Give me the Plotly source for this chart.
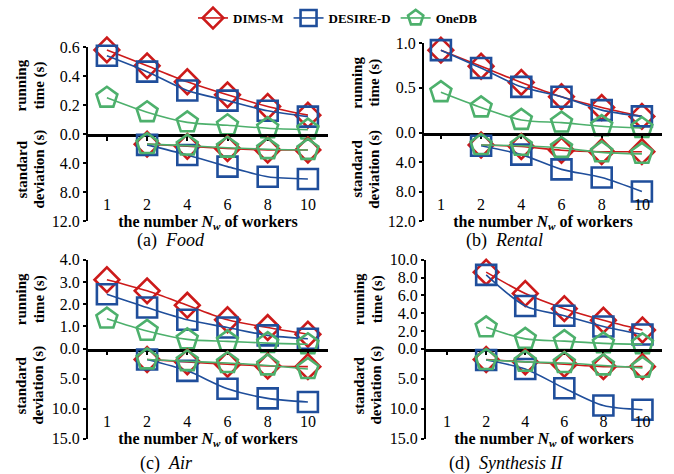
import plotly.graph_objects as go

W, H = 674, 474
FONT = "Liberation Serif"

# ---------------- data ----------------
workers = ['1', '2', '4', '6', '8', '10']
workers_from2 = ['2', '4', '6', '8', '10']
series_names = ['DIMS-M', 'DESIRE-D', 'OneDB']

food_time_dims = [0.58, 0.47, 0.36, 0.27, 0.19, 0.13]
food_time_desire = [0.54, 0.43, 0.30, 0.23, 0.16, 0.12]
food_time_onedb = [0.25, 0.15, 0.08, 0.06, 0.04, 0.03]
food_std_dims = [1.4, 1.7, 2.0, 2.2, 2.2]
food_std_desire = [1.5, 2.9, 4.5, 5.9, 6.2]
food_std_onedb = [1.4, 1.6, 1.9, 2.1, 2.2]

rental_time_dims = [0.92, 0.74, 0.56, 0.40, 0.28, 0.18]
rental_time_desire = [0.92, 0.72, 0.51, 0.40, 0.25, 0.18]
rental_time_onedb = [0.45, 0.28, 0.14, 0.11, 0.07, 0.05]
rental_std_dims = [1.7, 1.9, 2.4, 2.6, 2.6]
rental_std_desire = [1.8, 3.0, 5.0, 6.1, 8.0]
rental_std_onedb = [1.7, 1.8, 2.1, 2.7, 2.9]

air_time_dims = [3.1, 2.6, 1.95, 1.3, 0.95, 0.65]
air_time_desire = [2.45, 1.85, 1.3, 0.95, 0.6, 0.45]
air_time_onedb = [1.35, 0.8, 0.42, 0.33, 0.25, 0.2]
air_std_dims = [1.8, 2.2, 2.6, 2.9, 3.0]
air_std_desire = [1.8, 3.7, 6.7, 8.3, 8.9]
air_std_onedb = [1.8, 2.1, 2.4, 2.8, 3.4]

syn_time_dims = [8.6, 6.2, 4.5, 3.2, 2.1]
syn_time_desire = [8.3, 4.8, 3.7, 2.5, 1.6]
syn_time_onedb = [2.4, 1.1, 0.85, 0.6, 0.5]
syn_std_dims = [1.8, 2.2, 2.6, 3.0, 3.0]
syn_std_desire = [1.9, 3.4, 6.6, 9.5, 10.2]
syn_std_onedb = [1.9, 2.2, 2.4, 2.8, 3.2]

food_time_ticks = [0.0, 0.2, 0.4, 0.6]
rental_time_ticks = [0.0, 0.5, 1.0]
air_time_ticks = [0.0, 1.0, 2.0, 3.0, 4.0]
syn_time_ticks = [0.0, 2.0, 4.0, 6.0, 8.0, 10.0]
small_std_ticks = [4.0, 8.0, 12.0]
large_std_ticks = [5.0, 10.0, 15.0]

captions = ['(a)', '(b)', '(c)', '(d)']
dataset_names = ['Food', 'Rental', 'Air', 'Synthesis II']
top_title_lines = ['running', 'time (s)']
bottom_title_lines = ['standard', 'deviation (s)']
x_title = 'the number <i>N</i><sub><i>w</i></sub> of workers'

# ---------------- styles ----------------
COLORS = ['#CC1A1A', '#1F4E9B', '#4DB06C']
SYMBOLS = ['diamond-open', 'square-open', 'pentagon-open']
MSIZES = [19, 20, 22]


def px_x(v):
    return v / W


def px_y(v):
    return 1 - v / H


panels = [
    dict(times=(workers, [food_time_dims, food_time_desire, food_time_onedb]),
         stds=[food_std_dims, food_std_desire, food_std_onedb],
         tticks=food_time_ticks, sticks=small_std_ticks,
         x0=88, x1=328, xr=[-0.47, 5.5], ytop=47, yzero=134, ybot=221, label_line=193,
         cap_x=171, cap_y=240),
    dict(times=(workers, [rental_time_dims, rental_time_desire, rental_time_onedb]),
         stds=[rental_std_dims, rental_std_desire, rental_std_onedb],
         tticks=rental_time_ticks, sticks=small_std_ticks,
         x0=424, x1=662, xr=[-0.42, 5.5], ytop=43, yzero=132.5, ybot=221, label_line=193,
         cap_x=505, cap_y=240),
    dict(times=(workers, [air_time_dims, air_time_desire, air_time_onedb]),
         stds=[air_std_dims, air_std_desire, air_std_onedb],
         tticks=air_time_ticks, sticks=large_std_ticks,
         x0=88, x1=328, xr=[-0.47, 5.5], ytop=259.7, yzero=348.7, ybot=438.5, label_line=410,
         cap_x=166, cap_y=463),
    dict(times=(workers_from2, [syn_time_dims, syn_time_desire, syn_time_onedb]),
         stds=[syn_std_dims, syn_std_desire, syn_std_onedb],
         tticks=syn_time_ticks, sticks=large_std_ticks,
         x0=426, x1=662, xr=[-0.54, 5.5], ytop=259.7, yzero=348.7, ybot=438.5, label_line=410,
         cap_x=506, cap_y=463),
]

fig = go.Figure()
layout = {}
annotations = []

tick_font = dict(family=FONT, size=16, color='black')
bold_font = dict(family=FONT, size=15, color='black', weight='bold')


def xname(i):
    return 'x' if i == 1 else f'x{i}'


def yname(i):
    return 'y' if i == 1 else f'y{i}'


def xkey(i):
    return 'xaxis' if i == 1 else f'xaxis{i}'


def ykey(i):
    return 'yaxis' if i == 1 else f'yaxis{i}'


for p, pan in enumerate(panels):
    xa, xb, xc = 3 * p + 1, 3 * p + 2, 3 * p + 3
    ya, yb = 2 * p + 1, 2 * p + 2

    tx, tvals = pan['times']
    for s in range(3):
        fig.add_trace(go.Scatter(
            x=tx, y=tvals[s], name=series_names[s], legendgroup=series_names[s],
            showlegend=(p == 0), mode='lines+markers', cliponaxis=False,
            line=dict(color=COLORS[s], width=1.6, shape='spline', smoothing=0.8),
            marker=dict(symbol=SYMBOLS[s], size=MSIZES[s], color=COLORS[s],
                        line=dict(color=COLORS[s], width=2.6)),
            xaxis=xname(xa), yaxis=yname(ya)))
    for s in range(3):
        fig.add_trace(go.Scatter(
            x=workers_from2, y=pan['stds'][s], name=series_names[s],
            legendgroup=series_names[s], showlegend=False,
            mode='lines+markers', cliponaxis=False,
            line=dict(color=COLORS[s], width=1.6, shape='spline', smoothing=0.8),
            marker=dict(symbol=SYMBOLS[s], size=MSIZES[s], color=COLORS[s],
                        line=dict(color=COLORS[s], width=2.6)),
            xaxis=xname(xb), yaxis=yname(yb)))

    xdom = [px_x(pan['x0']), px_x(pan['x1'])]
    common_x = dict(domain=xdom, type='category', categoryorder='array',
                    categoryarray=workers, range=pan['xr'], showgrid=False,
                    zeroline=False, automargin=False)
    # top x axis: the zero line with downward ticks
    layout[xkey(xa)] = dict(common_x, anchor=yname(ya), side='bottom', showline=True,
                            linecolor='black', linewidth=2.5, ticks='outside', ticklen=4,
                            tickwidth=1.5, tickcolor='black', showticklabels=False)
    # bottom x axis: carries tick labels and title, freely positioned
    layout[xkey(xb)] = dict(common_x, anchor='free', position=px_y(pan['label_line']),
                            showline=False, ticks='', showticklabels=True,
                            tickfont=tick_font,
                            title=dict(text=x_title,
                                       font=dict(family=FONT, size=16, color='black',
                                                 weight='bold'),
                                       standoff=1))
    # decoration axis: upward ticks on the zero line
    layout[xkey(xc)] = dict(domain=xdom, anchor=yname(yb), side='top', type='linear',
                            range=pan['xr'], tickvals=[0, 1, 2, 3, 4, 5], ticks='outside',
                            ticklen=4, tickwidth=1.5, tickcolor='black',
                            showticklabels=False, showline=False, showgrid=False,
                            zeroline=False, automargin=False)

    tt = pan['tticks']
    layout[ykey(ya)] = dict(domain=[px_y(pan['yzero']), px_y(pan['ytop'])], anchor=xname(xa),
                            range=[0, tt[-1]], tickvals=tt, ticktext=[f'{v:.1f}' for v in tt],
                            ticks='outside', ticklen=3, tickwidth=1.5, tickcolor='black',
                            showline=True, linecolor='black', linewidth=2,
                            showgrid=False, zeroline=False, tickfont=tick_font,
                            automargin=False)
    st = pan['sticks']
    layout[ykey(yb)] = dict(domain=[px_y(pan['ybot']), px_y(pan['yzero'])], anchor=xname(xb),
                            range=[st[-1], 0], tickvals=st, ticktext=[f'{v:.1f}' for v in st],
                            ticks='outside', ticklen=3, tickwidth=1.5, tickcolor='black',
                            showline=True, linecolor='black', linewidth=2,
                            showgrid=False, zeroline=False, tickfont=tick_font,
                            automargin=False)

    off = pan['x0'] - 88
    top_mid = (pan['ytop'] + pan['yzero']) / 2 - 5
    bot_mid = (pan['yzero'] + pan['ybot']) / 2 - 8
    for k, (tline, bline) in enumerate(zip(top_title_lines, bottom_title_lines)):
        xc_px = 21 + 18 * k + off
        annotations.append(dict(xref='paper', yref='paper', x=px_x(xc_px), y=px_y(top_mid),
                                text=tline, textangle=-90, showarrow=False,
                                font=bold_font, xanchor='center', yanchor='middle'))
        annotations.append(dict(xref='paper', yref='paper', x=px_x(xc_px), y=px_y(bot_mid),
                                text=bline, textangle=-90, showarrow=False,
                                font=bold_font, xanchor='center', yanchor='middle'))
    annotations.append(dict(xref='paper', yref='paper', x=px_x(pan['cap_x']),
                            y=px_y(pan['cap_y']),
                            text=f'{captions[p]}&nbsp;&nbsp;<i>{dataset_names[p]}</i>',
                            showarrow=False, font=dict(family=FONT, size=18, color='black'),
                            xanchor='center', yanchor='middle'))

fig.update_layout(
    width=W, height=H, autosize=False,
    margin=dict(l=0, r=0, t=0, b=0),
    paper_bgcolor='white', plot_bgcolor='white',
    font=dict(family=FONT, color='black'),
    showlegend=True,
    legend=dict(orientation='h', x=px_x(193), xanchor='left', y=px_y(3), yanchor='top',
                font=dict(family=FONT, size=13, color='black', weight='bold'),
                bgcolor='rgba(0,0,0,0)', tracegroupgap=0),
    annotations=annotations,
    **layout,
)

fig.write_html("out.html", config={'displayModeBar': False},
               post_script="document.body.style.margin='0';document.body.style.overflow='hidden';")
